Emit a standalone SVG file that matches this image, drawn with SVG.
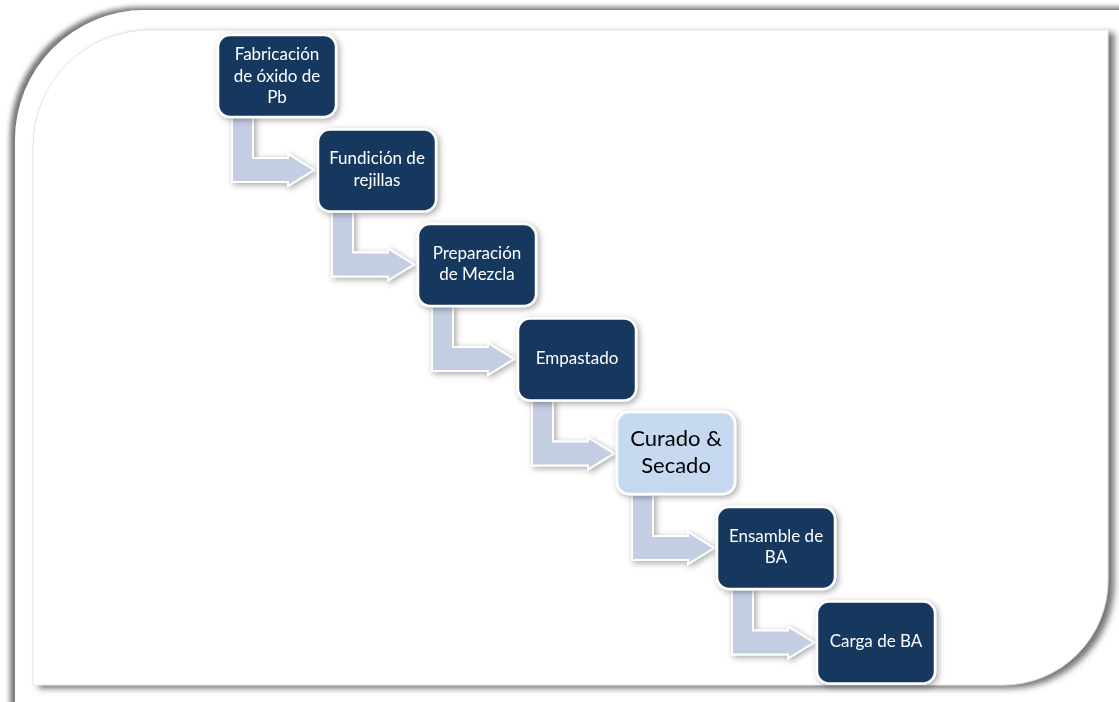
<svg xmlns="http://www.w3.org/2000/svg" width="1119" height="702" viewBox="0 0 1119 702">
<defs>
<filter id="outerSh" x="-5%" y="-5%" width="110%" height="110%">
<feDropShadow dx="-5" dy="-3" stdDeviation="2.5" flood-color="#6a6a6a" flood-opacity="0.9"/>
</filter>
<filter id="innerSh" x="-5%" y="-5%" width="110%" height="110%">
<feDropShadow dx="6" dy="3" stdDeviation="3" flood-color="#666" flood-opacity="0.9"/>
</filter>
<filter id="nodeSh" x="-20%" y="-20%" width="140%" height="140%">
<feDropShadow dx="2" dy="2" stdDeviation="3" flood-color="#000" flood-opacity="0.35"/>
</filter>
<style>
.node{fill:#17375E;stroke:#fff;stroke-width:2.5}
.light{fill:#C6D9F1;stroke:#fff;stroke-width:2.5}
.t{font-family:Lato,"Liberation Sans",sans-serif;font-size:17px;fill:#fff;text-anchor:middle}
.tb{font-family:Lato,"Liberation Sans",sans-serif;font-size:22px;fill:#000;text-anchor:middle}
.arr{fill:#C4CEE2;stroke:#fff;stroke-width:2;filter:url(#nodeSh)}
</style>
<path id="a" d="M232,117 L253,117 L253,158 L288,158 L288,154 L314,170 L288,186 L288,182 L232,182 Z"/>
</defs>
<rect width="1119" height="702" fill="#fff"/>
<g id="frame">
<path d="M15,720 L15,140 A130,130 0 0 1 145,10 L1140,10 L1140,720 Z" fill="#fff" filter="url(#outerSh)"/>
<path d="M33,146 A116,116 0 0 1 149,30 L1108,30 L1108,580 A105,105 0 0 1 1003,685 L33,685 Z" fill="#fff" stroke="#e2e2e2" stroke-width="1" filter="url(#innerSh)"/>
</g>
<g id="connectors">
<use href="#a" class="arr"/>
<use href="#a" class="arr" transform="translate(100,94.5)"/>
<use href="#a" class="arr" transform="translate(200,189)"/>
<use href="#a" class="arr" transform="translate(300,283.5)"/>
<use href="#a" class="arr" transform="translate(400,378)"/>
<use href="#a" class="arr" transform="translate(500,472.5)"/>
</g>
<g id="n1" filter="url(#nodeSh)">
<rect class="node" x="218" y="35" width="118" height="82" rx="12"/>
<text class="t" x="277" y="60">Fabricación</text>
<text class="t" x="277" y="82">de óxido de</text>
<text class="t" x="277" y="103">Pb</text>
</g>
<g id="n2" filter="url(#nodeSh)">
<rect class="node" x="318" y="129.5" width="118" height="82" rx="12"/>
<text class="t" x="377" y="164">Fundición de</text>
<text class="t" x="377" y="186">rejillas</text>
</g>
<g id="n3" filter="url(#nodeSh)">
<rect class="node" x="418" y="224" width="118" height="82" rx="12"/>
<text class="t" x="477" y="259">Preparación</text>
<text class="t" x="477" y="280">de Mezcla</text>
</g>
<g id="n4" filter="url(#nodeSh)">
<rect class="node" x="518" y="318.5" width="118" height="82" rx="12"/>
<text class="t" x="577" y="364">Empastado</text>
</g>
<g id="n5" filter="url(#nodeSh)">
<rect class="light" x="617" y="412" width="118" height="82" rx="12"/>
<text class="tb" x="676" y="446">Curado &amp;</text>
<text class="tb" x="676" y="473">Secado</text>
</g>
<g id="n6" filter="url(#nodeSh)">
<rect class="node" x="717" y="507" width="118" height="82" rx="12"/>
<text class="t" x="776" y="542">Ensamble de</text>
<text class="t" x="776" y="563">BA</text>
</g>
<g id="n7" filter="url(#nodeSh)">
<rect class="node" x="817" y="601.5" width="118" height="82" rx="12"/>
<text class="t" x="876" y="647">Carga de BA</text>
</g>
</svg>
